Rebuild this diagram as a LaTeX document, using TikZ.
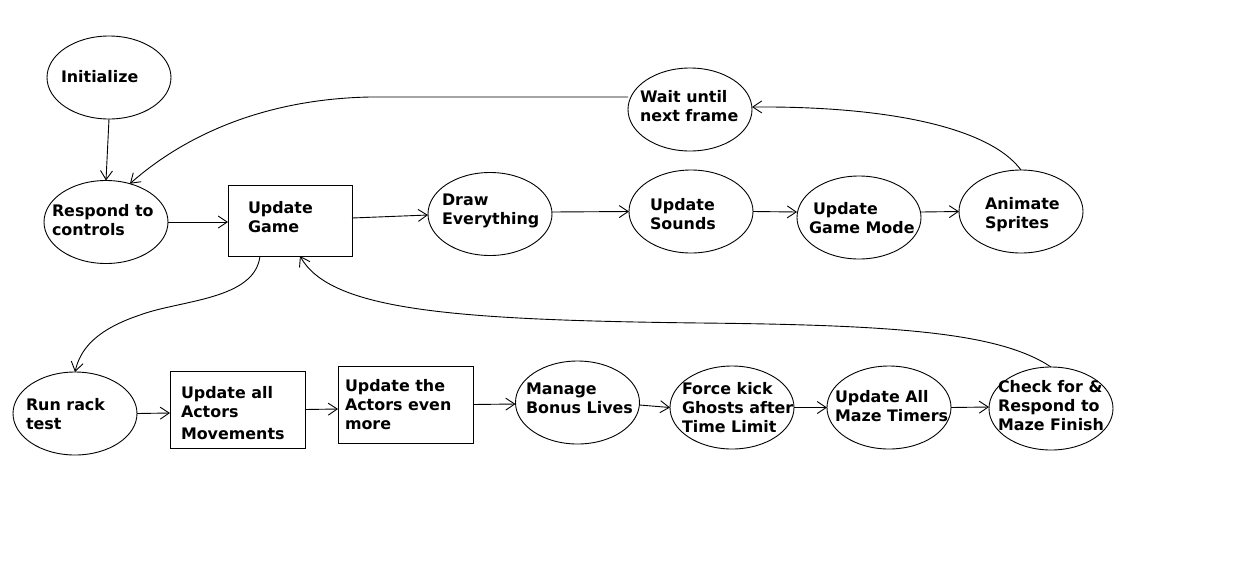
\documentclass[tikz,border=0pt]{standalone}
\usepackage{fontspec}
\newfontfamily\dv{DejaVu Sans}
\usetikzlibrary{shapes.geometric,arrows.meta}
\begin{document}
\begin{tikzpicture}[x=1pt,y=-1pt,
  every node/.style={inner sep=0pt,outer sep=0pt},
  ell/.style={draw,ellipse,line width=0.9pt,minimum width=124pt,minimum height=83pt},
  box/.style={draw,rectangle,line width=0.9pt,anchor=north west},
  txt/.style={anchor=west,align=left,font=\dv\bfseries\fontsize{15.9}{19}\selectfont},
  conn/.style={line width=0.9pt,-{Straight Barb[length=9pt,width=12pt,line width=0.9pt]}}]
\useasboundingbox[fill=white] (0,0) rectangle (1237,582);

% top row
\node[ell] (init) at (109,77.5) {};
\node[txt] (tinit) at (61,77) {Initialize};
\node[ell] (resp) at (106,222) {};
\node[txt] (tresp) at (52,220.5) {Respond to\\controls};
\node[box,minimum width=124pt,minimum height=71pt] (ug) at (228,185) {};
\node[txt] (tug) at (248,217.5) {Update\\Game};
\node[ell] (draw) at (490,214) {};
\node[txt] (tdraw) at (442,210.5) {Draw\\Everything};
\node[ell] (snd) at (691,211.5) {};
\node[txt] (tsnd) at (650,214.5) {Update\\Sounds};
\node[ell] (mode) at (859,217.5) {};
\node[txt] (tmode) at (809,218.5) {\hspace*{4pt}Update\\Game Mode};
\node[ell] (anim) at (1021,211.5) {};
\node[txt] (tanim) at (985,214.5) {Animate\\Sprites};
\node[ell] (wait) at (690,109.5) {};
\node[txt] (twait) at (640,106.5) {Wait until\\next frame};

% bottom row
\node[ell] (rack) at (75,413.5) {};
\node[txt] (track) at (26,414.5) {Run rack\\test};
\node[box,minimum width=135pt,minimum height=77pt] (act) at (170,371) {};
\node[txt] (tact) at (181,413) {Update all\\Actors\\[3pt]Movements};
\node[box,minimum width=135pt,minimum height=77pt] (act2) at (338,366) {};
\node[txt] (tact2) at (345,405) {Update the\\Actors even\\more};
\node[ell] (bonus) at (577.5,402.5) {};
\node[txt] (tbonus) at (526,398.5) {Manage\\Bonus Lives};
\node[ell] (kick) at (732,407.5) {};
\node[txt] (tkick) at (682,408) {Force kick\\Ghosts after\\Time Limit};
\node[ell] (timer) at (889,407.5) {};
\node[txt] (ttimer) at (835,406.5) {Update All\\Maze Timers};
\node[ell] (fin) at (1051,408.5) {};
\node[txt] (tfin) at (998,405.5) {Check for \&\\Respond to\\Maze Finish};

% connectors
\draw[conn] (init.south) -- (resp.north);
\draw[conn] (resp.east) -- ([yshift=-1.5pt]ug.west);
\draw[conn] ([yshift=2.5pt]ug.east) -- ([yshift=-1pt]draw.west);
\draw[conn] ([yshift=2pt]draw.east) -- (snd.west);
\draw[conn] (snd.east) -- ([yshift=5.5pt]mode.west);
\draw[conn] ([yshift=5.5pt]mode.east) -- (anim.west);
\draw[conn] (anim.north) .. controls (990,128) and (890,106) .. ([yshift=2.5pt]wait.east);
\draw[conn] (wait.west |- 0,97) -- (370,97) .. controls (265,99) and (185,135) .. (resp.58);
\draw[conn] (ug.south west) ++(32,0) .. controls (255,300) and (180,300) .. (140,315)
  .. controls (95,330) and (80,350) .. (rack.north);
\draw[conn] (fin.north) .. controls (1000,333) and (900,325) .. (700,323)
  .. controls (450,320) and (330,310) .. ([xshift=10pt]ug.south);
\draw[conn] (rack.east) -- ([yshift=-3.5pt]act.west);
\draw[conn] (act.east) -- ([yshift=-4.5pt]act2.west);
\draw[conn] (act2.east) -- ([yshift=-1.5pt]bonus.west);
\draw[conn] ([yshift=-2.5pt]bonus.east) -- (kick.west);
\draw[conn] (kick.east) -- (timer.west);
\draw[conn] (timer.east) -- ([yshift=1.5pt]fin.west);
\end{tikzpicture}
\end{document}
